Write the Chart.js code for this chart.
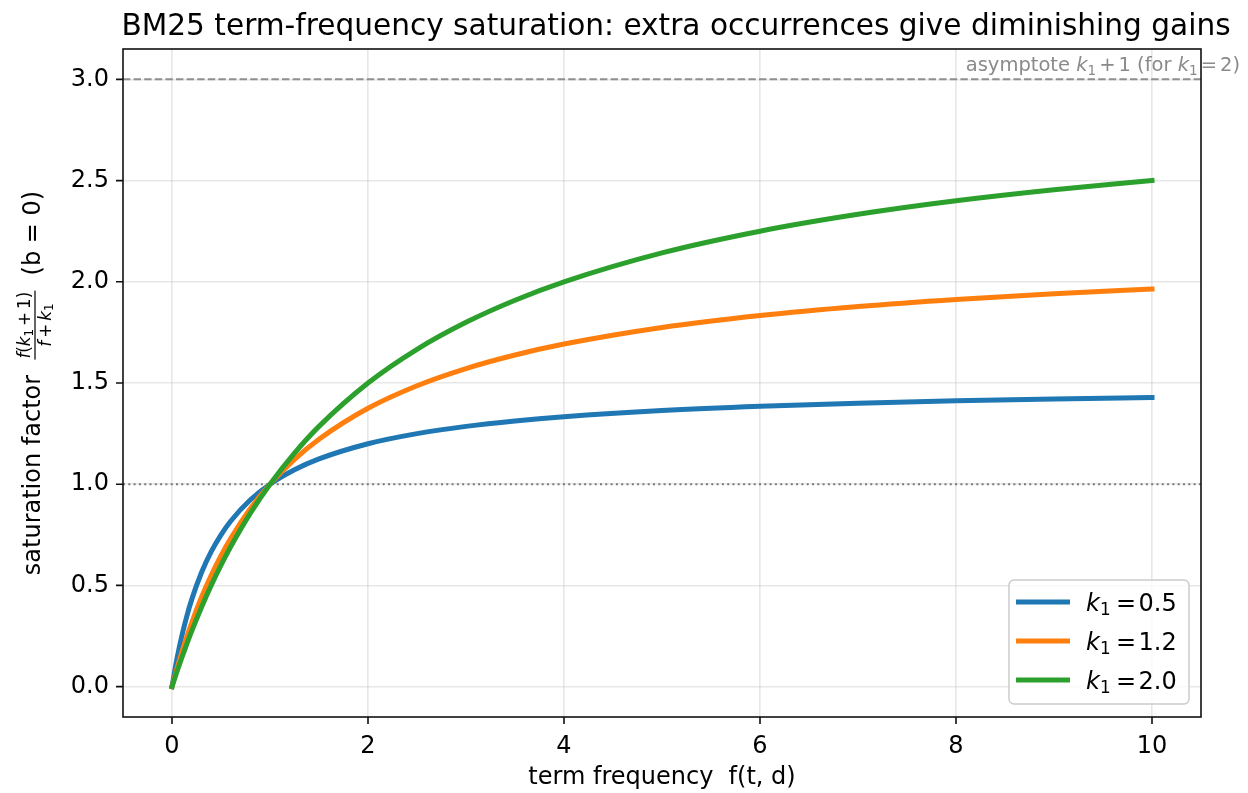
<!DOCTYPE html>
<html><head><meta charset="utf-8">
<script src="https://cdn.jsdelivr.net/npm/chart.js@4.4.1/dist/chart.umd.min.js"></script>
<style>html,body{margin:0;padding:0;background:#fff}#wrap{width:1248px;height:793px;position:relative}</style>
</head><body><div id="wrap"><canvas id="c"></canvas></div>
<script>
const termFreq = [0,0.05,0.1,0.15,0.2,0.3,0.4,0.5,0.6,0.8,1.0,1.25,1.5,2,2.5,3,3.5,4,5,6,7,8,9,10];
const satK05 = [0,0.1364,0.25,0.3462,0.4286,0.5625,0.6667,0.75,0.8182,0.9231,1.0,1.0714,1.125,1.2,1.25,1.2857,1.3125,1.3333,1.3636,1.3846,1.4,1.4118,1.4211,1.4286];
const satK12 = [0,0.088,0.1692,0.2444,0.3143,0.44,0.55,0.6471,0.7333,0.88,1.0,1.1224,1.2222,1.375,1.4865,1.5714,1.6383,1.6923,1.7742,1.8333,1.878,1.913,1.9412,1.9643];
const satK20 = [0,0.0732,0.1429,0.2093,0.2727,0.3913,0.5,0.6,0.6923,0.8571,1.0,1.1538,1.2857,1.5,1.6667,1.8,1.9091,2.0,2.1429,2.25,2.3333,2.4,2.4545,2.5];
const k1Values = ['0.5','1.2','2.0'];
const seriesColors = ['#1f77b4','#ff7f0e','#2ca02c'];
const xTicks = [0,2,4,6,8,10];
const xTickLabels = ['0','2','4','6','8','10'];
const yTicks = [0,0.5,1,1.5,2,2.5,3];
const yTickLabels = ['0.0','0.5','1.0','1.5','2.0','2.5','3.0'];
const asymptoteY = 3.0;
const unitY = 1.0;
const titleText = 'BM25 term-frequency saturation: extra occurrences give diminishing gains';
const xLabelText = 'term frequency  f(t, d)';

const FONT = '"DejaVu Sans"';
function fnt(size, it){ return (it?'italic ':'') + size + 'px ' + FONT; }
function runsWidth(ctx, runs){
  let w=0; for(const r of runs){ ctx.font=fnt(r.size,r.it); w += ctx.measureText(r.t).width + (r.pl||0) + (r.pr||0);} return w;
}
function drawRuns(ctx, runs, x, y, align){
  const w = runsWidth(ctx, runs);
  if(align==='right') x -= w; else if(align==='center') x -= w/2;
  ctx.textBaseline='alphabetic'; ctx.textAlign='left';
  for(const r of runs){
    ctx.font=fnt(r.size,r.it);
    x += (r.pl||0);
    ctx.fillText(r.t, x, y + (r.dy||0));
    x += ctx.measureText(r.t).width + (r.pr||0);
  }
  return w;
}

const sets = [satK05, satK12, satK20];
const datasets = sets.map((arr,i)=>({
  label: 'k1 = ' + k1Values[i],
  data: termFreq.map((x,j)=>({x:x, y:arr[j]})),
  borderColor: seriesColors[i],
  backgroundColor: seriesColors[i],
  borderWidth: 5,
  pointRadius: 0,
  fill: false,
  cubicInterpolationMode: 'monotone',
  borderCapStyle: 'square',
  borderJoinStyle: 'round',
  order: 3 - i
}));

const deco = {
  id: 'deco',
  beforeDatasetsDraw(chart){
    const ctx = chart.ctx, a = chart.chartArea, ys = chart.scales.y;
    ctx.save();
    ctx.strokeStyle = '#8f8f8f'; ctx.lineWidth = 2; ctx.setLineDash([7.4,3.2]);
    let py = ys.getPixelForValue(asymptoteY);
    ctx.beginPath(); ctx.moveTo(a.left, py); ctx.lineTo(a.right, py); ctx.stroke();
    ctx.strokeStyle = '#7a7a7a'; ctx.setLineDash([2,3.3]);
    py = ys.getPixelForValue(unitY);
    ctx.beginPath(); ctx.moveTo(a.left, py); ctx.lineTo(a.right, py); ctx.stroke();
    ctx.setLineDash([]);
    ctx.fillStyle = '#8a8a8a';
    const s = 19.5, ss = 13.6, d = 4;
    drawRuns(ctx, [
      {t:'asymptote ', size:s},
      {t:'k', size:s, it:true},
      {t:'1', size:ss, dy:d},
      {t:'+', size:s, pl:3, pr:3},
      {t:'1 (for ', size:s},
      {t:'k', size:s, it:true},
      {t:'1', size:ss, dy:d},
      {t:'=', size:s, pl:3, pr:3},
      {t:'2)', size:s}
    ], 1240, 71, 'right');
    ctx.restore();
  },
  afterDatasetsDraw(chart){
    const ctx = chart.ctx, a = chart.chartArea, xs = chart.scales.x, ys = chart.scales.y;
    ctx.save();
    ctx.strokeStyle = '#111'; ctx.lineWidth = 1.6;
    ctx.strokeRect(a.left, a.top, a.right-a.left, a.bottom-a.top);
    ctx.beginPath();
    for(const v of xTicks){ const px = xs.getPixelForValue(v); ctx.moveTo(px, a.bottom); ctx.lineTo(px, a.bottom+7); }
    for(const v of yTicks){ const py = ys.getPixelForValue(v); ctx.moveTo(a.left-7, py); ctx.lineTo(a.left, py); }
    ctx.stroke();
    ctx.restore();
  },
  afterDraw(chart){
    const ctx = chart.ctx, a = chart.chartArea;
    ctx.save();
    const lx = 1009, ly = 580, lw = 180, lh = 124;
    ctx.fillStyle = 'rgba(255,255,255,0.8)'; ctx.strokeStyle = '#cccccc'; ctx.lineWidth = 1.5;
    ctx.beginPath(); ctx.roundRect(lx, ly, lw, lh, 5); ctx.fill(); ctx.stroke();
    const rows = [602, 641, 680];
    for(let i=0;i<3;i++){
      ctx.strokeStyle = seriesColors[i]; ctx.lineWidth = 5; ctx.lineCap = 'square';
      ctx.beginPath(); ctx.moveTo(1018.5, rows[i]); ctx.lineTo(1067.5, rows[i]); ctx.stroke();
      ctx.fillStyle = '#000'; ctx.textBaseline='alphabetic'; ctx.textAlign='left';
      const tx = 1086, by = rows[i] + 8.5;
      ctx.font = fnt(24,true); ctx.fillText('k', tx, by);
      ctx.font = fnt(16.8,false); ctx.fillText('1', tx+14, by+4.5);
      ctx.font = fnt(24,false); ctx.fillText('=', tx+30, by);
      ctx.fillText(k1Values[i], tx+52.5, by);
    }
    ctx.lineCap = 'butt';
    ctx.fillStyle = '#000';
    ctx.font = fnt(29.6,false); ctx.textAlign='center'; ctx.textBaseline='alphabetic';
    ctx.fillText(titleText, 676, 35);
    ctx.font = fnt(24,false);
    ctx.fillText(xLabelText, (a.left+a.right)/2, 784);
    ctx.save();
    ctx.translate(40, (a.top+a.bottom)/2);
    ctx.rotate(-Math.PI/2);
    ctx.textAlign='left';
    ctx.font = fnt(24,false);
    const t1 = 'saturation factor', t3 = '(b = 0)';
    const w1 = ctx.measureText(t1).width, w3 = ctx.measureText(t3).width, gap = ctx.measureText('  ').width;
    const fs = 16.8, fss = 11.8;
    const num = [{t:'f',size:fs,it:true},{t:'(',size:fs},{t:'k',size:fs,it:true},{t:'1',size:fss,dy:2.8},{t:'+',size:fs,pl:3,pr:3},{t:'1',size:fs},{t:')',size:fs}];
    const den = [{t:'f',size:fs,it:true},{t:'+',size:fs,pl:3,pr:3},{t:'k',size:fs,it:true},{t:'1',size:fss,dy:2.8}];
    const wn = runsWidth(ctx,num), wd = runsWidth(ctx,den);
    const W = Math.max(wn,wd) + 2;
    const total = w1 + gap + W + gap + w3;
    let u = -total/2;
    ctx.font = fnt(24,false); ctx.fillText(t1, u, 0);
    u += w1 + gap;
    ctx.fillRect(u, -5.6, W, 1.2);
    drawRuns(ctx, num, u + W/2, -10, 'center');
    drawRuns(ctx, den, u + W/2, 10.5, 'center');
    u += W + gap;
    ctx.font = fnt(24,false); ctx.textAlign='left'; ctx.fillText(t3, u, 0);
    ctx.restore();
    ctx.restore();
  }
};

new Chart(document.getElementById('c'), {
  type: 'line',
  data: { datasets },
  options: {
    responsive: true, maintainAspectRatio: false, animation: false,
    layout: { padding: { top: 49, right: 47, left: 0, bottom: 0 } },
    plugins: { legend: {display:false}, tooltip: {enabled:false}, title:{display:false} },
    scales: {
      x: {
        type: 'linear', min: -0.5, max: 10.5,
        afterBuildTicks: s => { s.ticks = xTicks.map(v=>({value:v})); },
        afterFit: s => { s.height = 76; },
        ticks: { callback: v => xTickLabels[xTicks.indexOf(v)], font:{family:'DejaVu Sans', size:24}, color:'#000', padding: 15, maxRotation:0, autoSkip:false },
        grid: { color:'rgba(176,176,176,0.3)', lineWidth:1.6, drawTicks:false },
        border: { display:false }
      },
      y: {
        type: 'linear', min: -0.15, max: 3.15,
        afterBuildTicks: s => { s.ticks = yTicks.map(v=>({value:v})); },
        afterFit: s => { s.width = 123; },
        ticks: { callback: v => yTickLabels[yTicks.indexOf(v)], font:{family:'DejaVu Sans', size:24}, color:'#000', padding: 14, autoSkip:false },
        grid: { color:'rgba(176,176,176,0.3)', lineWidth:1.6, drawTicks:false },
        border: { display:false }
      }
    }
  },
  plugins: [deco]
});
</script></body></html>
